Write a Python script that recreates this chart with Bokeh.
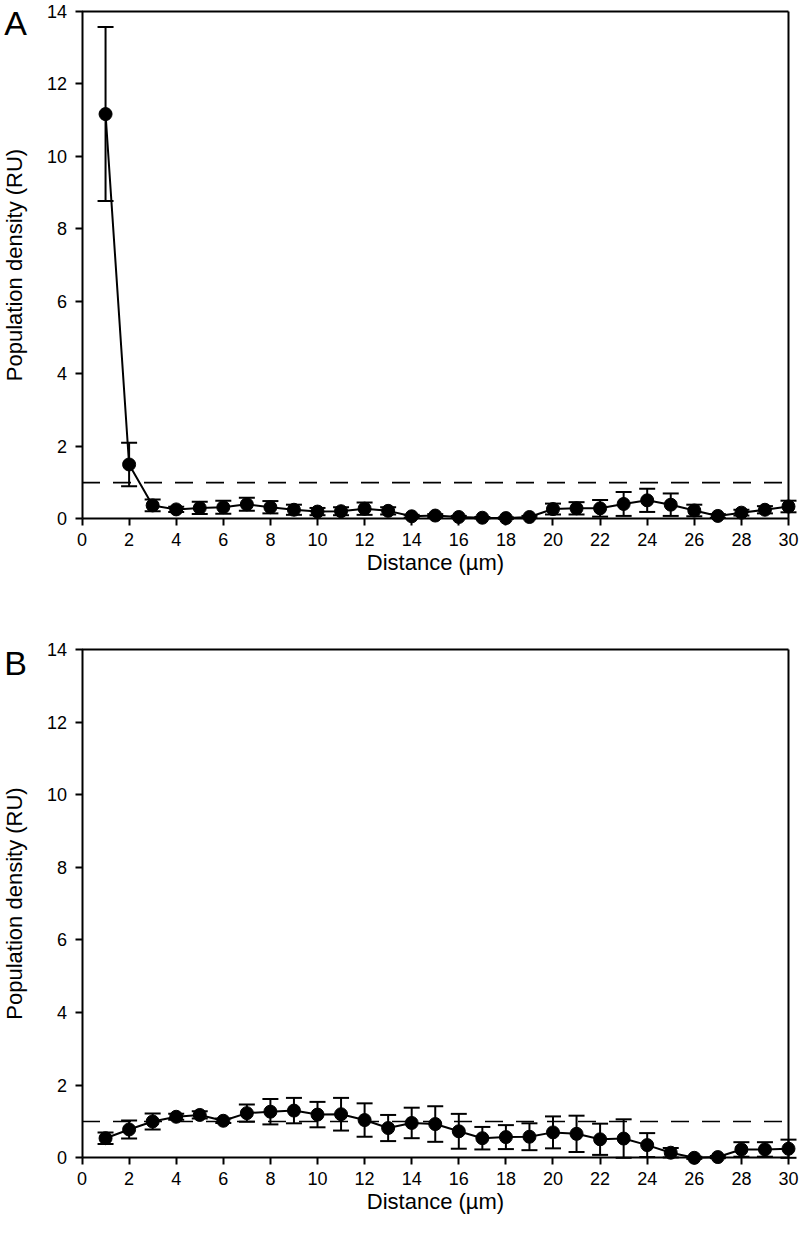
from bokeh.plotting import figure
from bokeh.layouts import column
from bokeh.models import ColumnDataSource, Whisker, TeeHead, FixedTicker, Label
from bokeh.embed import file_html
from bokeh.resources import INLINE

distance = list(range(1, 31))
density_a = [11.17, 1.50, 0.37, 0.26, 0.30, 0.32, 0.40, 0.32, 0.25, 0.20,
             0.21, 0.28, 0.22, 0.07, 0.09, 0.05, 0.03, 0.02, 0.05, 0.27,
             0.29, 0.29, 0.41, 0.51, 0.39, 0.23, 0.08, 0.17, 0.25, 0.34]
error_a = [2.40, 0.60, 0.16, 0.07, 0.17, 0.18, 0.18, 0.17, 0.14, 0.10,
           0.11, 0.17, 0.10, 0.04, 0.04, 0.03, 0.02, 0.02, 0.03, 0.15,
           0.17, 0.23, 0.33, 0.32, 0.31, 0.16, 0.05, 0.08, 0.10, 0.16]
density_b = [0.54, 0.78, 1.00, 1.13, 1.18, 1.02, 1.23, 1.27, 1.30, 1.19,
             1.20, 1.04, 0.82, 0.96, 0.93, 0.73, 0.54, 0.57, 0.58, 0.70,
             0.66, 0.51, 0.53, 0.35, 0.14, 0.00, 0.02, 0.23, 0.23, 0.25]
error_b = [0.16, 0.25, 0.22, 0.08, 0.10, 0.06, 0.24, 0.35, 0.35, 0.35,
           0.45, 0.46, 0.36, 0.42, 0.49, 0.48, 0.31, 0.33, 0.37, 0.44,
           0.50, 0.43, 0.53, 0.33, 0.13, 0.03, 0.03, 0.20, 0.20, 0.25]
reference_level = 1
x_ticks = list(range(0, 31, 2))
y_ticks = list(range(0, 15, 2))
x_max = 30
y_max = 14

FONT = "Liberation Sans"


def panel(letter, ys, errs, height, y_start, y_end, letter_y):
    p = figure(width=800, height=height, output_backend="svg", toolbar_location=None,
               x_range=(-3.461, 30.51), y_range=(y_start, y_end),
               min_border_left=0, min_border_right=0, min_border_top=0,
               min_border_bottom=0)
    p.outline_line_color = None
    p.grid.visible = False
    p.background_fill_color = "white"
    p.border_fill_color = "white"

    src = ColumnDataSource(dict(x=distance, y=ys,
                                upper=[a + b for a, b in zip(ys, errs)],
                                lower=[a - b for a, b in zip(ys, errs)]))

    # frame top & right borders
    p.segment(x0=[0, x_max], y0=[y_max, 0], x1=[x_max, x_max], y1=[y_max, y_max],
              line_color="black", line_width=2)
    # reference dashed line
    p.segment(x0=[0], y0=[reference_level], x1=[x_max], y1=[reference_level],
              line_color="black", line_width=1.7, line_dash="18 13")

    w = Whisker(source=src, base="x", upper="upper", lower="lower",
                line_color="black", line_width=2,
                upper_head=TeeHead(size=16, line_width=2, line_color="black"),
                lower_head=TeeHead(size=16, line_width=2, line_color="black"))
    p.add_layout(w)
    p.line("x", "y", source=src, line_color="black", line_width=2)
    p.scatter("x", "y", source=src, size=13, fill_color="black", line_color="black")

    for ax in (p.xaxis[0], p.yaxis[0]):
        ax.axis_line_width = 2
        ax.major_tick_line_width = 2
        ax.major_tick_out = 7
        ax.major_tick_in = 0
        ax.minor_tick_line_color = None
        ax.major_label_text_font = FONT
        ax.major_label_text_font_size = "18px"
        ax.axis_label_text_font = FONT
        ax.axis_label_text_font_size = "22px"
        ax.axis_label_text_font_style = "normal"
        ax.major_label_text_color = "black"
        ax.axis_label_text_color = "black"
        ax.axis_line_color = "black"
        ax.major_tick_line_color = "black"

    p.xaxis.ticker = FixedTicker(ticks=x_ticks)
    p.yaxis.ticker = FixedTicker(ticks=y_ticks)
    p.xaxis.bounds = (0, x_max)
    p.yaxis.bounds = (0, y_max)
    p.xaxis.fixed_location = 0
    p.yaxis.fixed_location = 0
    p.xaxis.axis_label = "Distance (µm)"
    p.yaxis.axis_label = "Population density (RU)"
    p.xaxis.axis_label_standoff = 1
    p.yaxis.axis_label_standoff = 17
    p.xaxis.major_label_standoff = 7
    p.yaxis.major_label_standoff = 8

    p.add_layout(Label(x=-3.30, y=letter_y, text=letter, text_font=FONT,
                       text_font_size="34px", text_baseline="top", text_align="left",
                       text_color="black"))
    return p


pa = panel("A", density_a, error_a, 600, -2.254, 14.304, 14.22)
pb = panel("B", density_b, error_b, 642, -2.333, 15.35, 14.165)

layout = column(pa, pb, spacing=0)
open("out.html", "w").write(file_html(layout, INLINE))
